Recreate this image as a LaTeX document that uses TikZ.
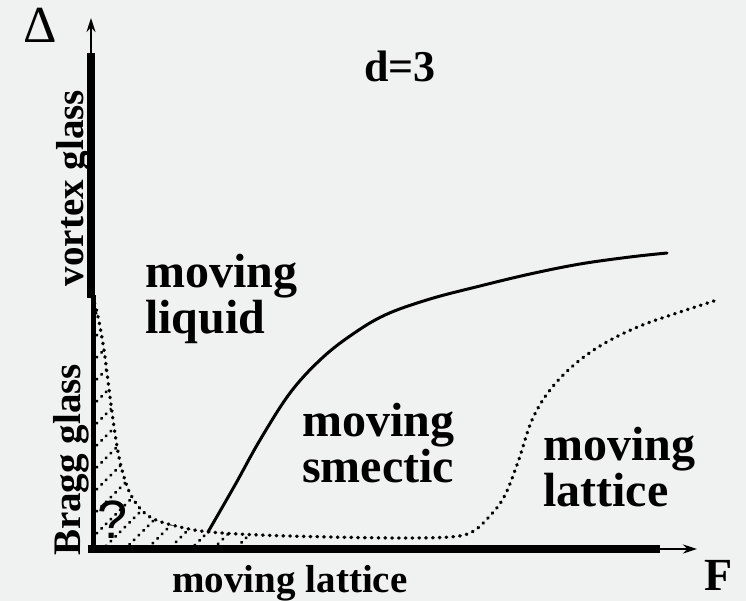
\documentclass[tikz,border=0pt]{standalone}
\usepackage{fontspec}
\setmainfont{Liberation Serif}
\newfontfamily\qfont{Liberation Sans}
\usetikzlibrary{arrows.meta}
\definecolor{bgcol}{RGB}{240,241,241}
\begin{document}
\begin{tikzpicture}[x=1pt, y=-1pt,
  lbl/.style={font=\fontsize{48}{46}\selectfont\bfseries, align=left, anchor=north west, inner sep=0pt},
  sidelbl/.style={font=\fontsize{39}{39}\selectfont\bfseries, anchor=base, inner sep=0pt},
  solidcurve/.style={line width=3pt, line cap=round},
  dotcurve/.style={line width=3.4pt, line cap=round, dash pattern=on 0.6pt off 6.2pt},
  hatch/.style={line width=3pt, line cap=round, dash pattern=on 0.6pt off 6pt},
  tip/.style={-{Stealth[length=14pt, width=9pt]}}
]
\fill[bgcol] (0,0) rectangle (746,601);
\useasboundingbox (0,0) rectangle (746,601);

% axes
\coordinate (origin) at (92,549);
\coordinate (bragg top) at (93.5,295);
\coordinate (vortex bottom) at (91,298);
\coordinate (vortex top) at (91,53);
\coordinate (delta tip) at (91,18);
\coordinate (force end) at (660,549);
\coordinate (force tip) at (697,549);

\draw[line width=4.5pt] (93.5,552) -- (bragg top);
\draw[line width=8pt] (vortex bottom) -- (vortex top);
\draw[line width=2pt, tip] (91,60) -- (delta tip);
\draw[line width=8.5pt] (88,549) -- (force end);
\draw[line width=2.4pt, tip] (650,549) -- (force tip);

% hatched corner
\begin{scope}
  \clip plot[smooth] coordinates {(92,297) (97,312) (104,350) (110,397) (116,440) (122,470) (132,497) (150,517) (180,527) (210,532) (250,535)}
    -- (250,546) -- (92,546) -- cycle;
  \foreach \k in {318,340,...,720}
    \draw[hatch] (92,\k) -- ++(300,-300);
\end{scope}

% phase boundaries
\draw[dotcurve] plot[smooth, tension=0.6] coordinates {(92,297) (97,312) (104,350) (110,397) (116,440) (122,470) (132,497) (150,517) (180,527) (210,532) (260,535) (330,537) (400,538) (450,537) (472,532) (488,518) (504,497) (518,462) (532,420) (550,390) (575,364) (605,343) (640,326) (680,312) (717,300)};
\draw[solidcurve] plot[smooth, tension=0.6] coordinates {(208,532) (235,485) (260,440) (290,393) (320,360) (350,336) (385,315) (430,299) (480,286) (530,274) (580,264) (630,257) (667,253)};

% labels
\node[font=\fontsize{52}{52}\selectfont, anchor=base, inner sep=0pt] (delta) at (40,43) {Δ};
\node[font=\fontsize{44}{44}\selectfont\bfseries, anchor=base, inner sep=0pt] (dim) at (400,82) {d=3};
\node[lbl] (liquid) at (145,254) {moving\\liquid};
\node[lbl] (smectic) at (302,403) {moving\\smectic};
\node[lbl] (lattice) at (543,427) {moving\\lattice};
\node[sidelbl, rotate=90] (vortex) at (83,188) {vortex glass};
\node[sidelbl, rotate=90] (bragg) at (80,460) {Bragg glass};
\node[sidelbl] (bottom) at (290,592) {moving lattice};
\node[font=\fontsize{46}{46}\selectfont\bfseries, anchor=base, inner sep=0pt] (force) at (719,590) {F};
\node[font=\fontsize{54}{54}\qfont, anchor=base, inner sep=0pt] (unknown) at (113,538) {?};
\end{tikzpicture}
\end{document}
